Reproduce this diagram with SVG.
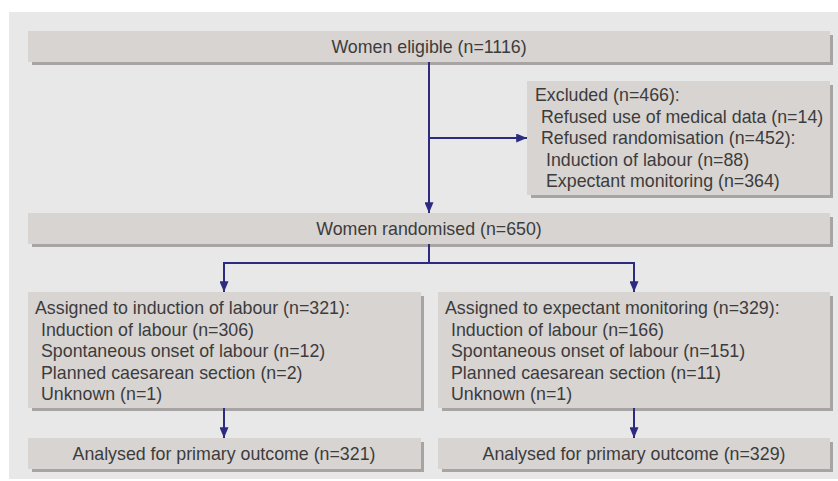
<svg xmlns="http://www.w3.org/2000/svg" width="838" height="481" viewBox="0 0 838 481">
<defs>
<style>
.panel{fill:#e8e8e8}
.shadow{fill:#a8a4a3}
.box{fill:#d8d4d2}
text{font-family:"Liberation Sans",Arial,sans-serif;font-size:17.8px;fill:#3c3c3c}
.c{text-anchor:middle}
.ln{stroke:#2c2b80;stroke-width:2;fill:none}
</style>
<marker id="arr" viewBox="0 0 12 10" refX="12" refY="5" markerWidth="12" markerHeight="9" markerUnits="userSpaceOnUse" orient="auto">
<path d="M0,0 L12,5 L0,10 z" fill="#2c2b80"/>
</marker>
</defs>
<rect class="panel" x="9" y="12" width="829" height="467"/>

<g id="eligible">
<rect class="shadow" x="32" y="35" width="801" height="30"/>
<rect class="box" x="28" y="31" width="802" height="31"/>
<text class="c" x="429" y="52.5">Women eligible (n=1116)</text>
</g>

<g id="excluded">
<rect class="shadow" x="531" y="85" width="302" height="113"/>
<rect class="box" x="527" y="81" width="303" height="114"/>
<text x="535" y="101">Excluded (n=466):</text>
<text x="541" y="122.5">Refused use of medical data (n=14)</text>
<text x="541" y="144">Refused randomisation (n=452):</text>
<text x="546" y="165.5">Induction of labour (n=88)</text>
<text x="546" y="187">Expectant monitoring (n=364)</text>
</g>

<g id="randomised">
<rect class="shadow" x="32" y="217" width="801" height="30"/>
<rect class="box" x="28" y="213" width="802" height="31"/>
<text class="c" x="429" y="234.5">Women randomised (n=650)</text>
</g>

<g id="induction">
<rect class="shadow" x="32" y="296" width="392" height="115"/>
<rect class="box" x="28" y="292" width="393" height="116"/>
<text x="35" y="314">Assigned to induction of labour (n=321):</text>
<text x="41" y="335.5">Induction of labour (n=306)</text>
<text x="41" y="357">Spontaneous onset of labour (n=12)</text>
<text x="41" y="378.5">Planned caesarean section (n=2)</text>
<text x="41" y="400">Unknown (n=1)</text>
</g>

<g id="expectant">
<rect class="shadow" x="442" y="296" width="391" height="115"/>
<rect class="box" x="438" y="292" width="392" height="116"/>
<text x="445" y="314">Assigned to expectant monitoring (n=329):</text>
<text x="451" y="335.5">Induction of labour (n=166)</text>
<text x="451" y="357">Spontaneous onset of labour (n=151)</text>
<text x="451" y="378.5">Planned caesarean section (n=11)</text>
<text x="451" y="400">Unknown (n=1)</text>
</g>

<g id="analysed-induction">
<rect class="shadow" x="32" y="442" width="392" height="30"/>
<rect class="box" x="28" y="438" width="393" height="31"/>
<text class="c" x="224" y="459.5">Analysed for primary outcome (n=321)</text>
</g>

<g id="analysed-expectant">
<rect class="shadow" x="442" y="442" width="391" height="30"/>
<rect class="box" x="438" y="438" width="392" height="31"/>
<text class="c" x="634" y="459.5">Analysed for primary outcome (n=329)</text>
</g>

<g id="connectors">
<path class="ln" d="M429,62 V213" marker-end="url(#arr)"/>
<path class="ln" d="M429,138 H527" marker-end="url(#arr)"/>
<path class="ln" d="M429,244 V263 M224,263 H634"/>
<path class="ln" d="M224,262 V292" marker-end="url(#arr)"/>
<path class="ln" d="M634,262 V292" marker-end="url(#arr)"/>
<path class="ln" d="M224,408 V438" marker-end="url(#arr)"/>
<path class="ln" d="M634,408 V438" marker-end="url(#arr)"/>
</g>
</svg>
